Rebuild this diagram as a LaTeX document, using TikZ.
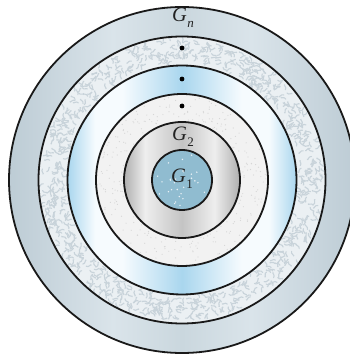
\documentclass[tikz,border=0pt]{standalone}
\usepackage{fontspec}
\setmainfont{Liberation Serif}
\usetikzlibrary{calc}
\definecolor{outerA}{HTML}{BDCCD5}
\definecolor{outerB}{HTML}{DAE4EA}
\definecolor{outerC}{HTML}{CAD7DE}
\definecolor{mottleBase}{HTML}{EBF0F3}
\definecolor{mottle}{HTML}{C8D3DA}
\definecolor{blueA}{HTML}{A9D6EE}
\definecolor{blueW}{HTML}{F6FBFE}
\definecolor{dotBase}{HTML}{F2F2F2}
\definecolor{dotGray}{HTML}{D6D6D6}
\definecolor{grayA}{HTML}{AFAFAF}
\definecolor{grayW}{HTML}{EEEEEE}
\definecolor{grayM}{HTML}{C4C4C4}
\definecolor{innerBlue}{HTML}{90BCD0}
\definecolor{labelcol}{HTML}{222222}
\pgfdeclarehorizontalshading{outerband}{100bp}{color(0bp)=(outerA); color(25bp)=(outerA); color(40bp)=(outerB); color(50bp)=(outerC); color(60bp)=(outerB); color(75bp)=(outerA); color(100bp)=(outerA)}
\pgfdeclarehorizontalshading{blueband}{100bp}{color(0bp)=(blueA); color(25bp)=(blueA); color(31bp)=(blueW); color(37bp)=(blueW); color(50bp)=(blueA); color(63bp)=(blueW); color(69bp)=(blueW); color(75bp)=(blueA); color(100bp)=(blueA)}
\pgfdeclarehorizontalshading{grayband}{100bp}{color(0bp)=(grayA); color(25bp)=(grayA); color(34bp)=(grayW); color(50bp)=(grayM); color(64bp)=(grayW); color(75bp)=(grayA); color(100bp)=(grayA)}
\newcommand{\gsub}[1]{{\itshape G}\kern0.5pt\raisebox{-0.28em}{\fontsize{13}{13}\selectfont #1}}
\tikzset{
  ringline/.style={draw=black!90, line width=1.8pt},
  mottlestroke/.style={draw=mottle, line width=1.1pt, line cap=round, line join=round},
  glabel/.style={text=labelcol, inner sep=0pt, font=\fontsize{20.5}{22}\selectfont},
  gapdot/.style={fill=black, circle, inner sep=0pt, minimum size=4.8pt}
}
\begin{document}
\begin{tikzpicture}[x=1pt, y=1pt]
\useasboundingbox (0,0) rectangle (350,354);
\clip (0,0) rectangle (350,354);
\coordinate (c) at (182,174);
% fills
\shade[shading=outerband] (c) circle (173);
\fill[mottleBase] (c) circle (143.5);
\pgfmathsetseed{7}
\begin{scope}[shift={(182,174)}]
\foreach \i in {1,...,900}{
  \pgfmathsetmacro\ang{rnd*360}
  \pgfmathsetmacro\rad{118+rnd*22}
  \pgfmathsetmacro\dir{rnd*360}
  \draw[mottlestroke] (\ang:\rad) .. controls +(\dir:3) and +(\dir+120:2) .. +(\dir+50:5);
}
\end{scope}
\shade[shading=blueband] (c) circle (114.5);
\fill[dotBase] (c) circle (86);
\begin{scope}[shift={(182,174)}]
\foreach \i in {1,...,260}{
  \pgfmathsetmacro\ang{rnd*360}
  \pgfmathsetmacro\rad{60+rnd*24}
  \fill[dotGray] (\ang:\rad) circle (0.6);
}
\end{scope}
\shade[shading=grayband] (c) circle (58);
\fill[innerBlue] (c) circle (30);
\begin{scope}[shift={(182,174)}]
\foreach \i in {1,...,30}{
  \pgfmathsetmacro\ang{rnd*360}
  \pgfmathsetmacro\rad{3+rnd*24}
  \fill[white!80!innerBlue] (\ang:\rad) circle (0.8);
}
\end{scope}
% outlines
\foreach \r in {173,143.5,114.5,86,58,30}{
  \draw[ringline] (c) circle (\r);
}
% labels
\node[glabel] (g1) at (182,175) {\gsub{1}};
\node[glabel] (g2) at (183,217) {\gsub{2}};
\node[glabel] (gn) at (183,336) {\gsub{\itshape n}};
\node[gapdot] (d1) at (182,306) {};
\node[gapdot] (d2) at (182,275) {};
\node[gapdot] (d3) at (182,248) {};
\end{tikzpicture}
\end{document}
